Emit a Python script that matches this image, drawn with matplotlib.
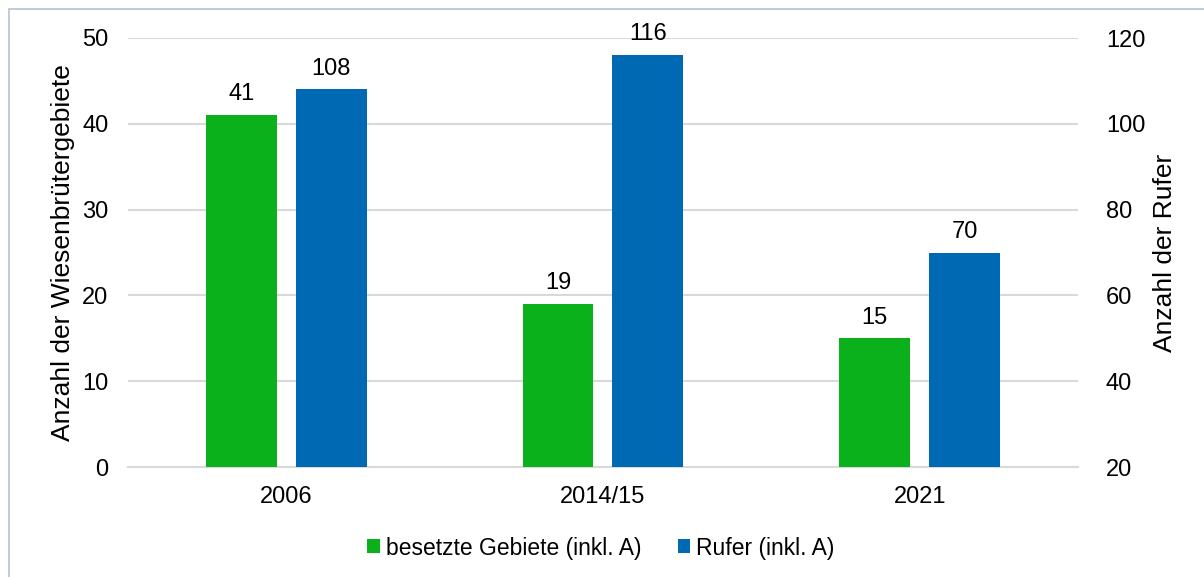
import matplotlib.pyplot as plt
import numpy as np
from matplotlib.patches import Rectangle

plt.rcParams['font.family'] = ['Liberation Sans', 'DejaVu Sans']

# data
years = ['2006', '2014/15', '2021']
gebiete = [41, 19, 15]
rufer = [108, 116, 70]
labels = ['besetzte Gebiete (inkl. A)', 'Rufer (inkl. A)']

green = '#0BB11A'
blue = '#0069B4'
W, H = 1204, 577

fig = plt.figure(figsize=(W / 100, H / 100), dpi=100)
ax = fig.add_axes([128 / W, 1 - 467 / H, (1078 - 128) / W, (467 - 38) / H])
ax2 = ax.twinx()

x = np.arange(len(years))
bw = 0.224
off = 0.142

b1 = ax.bar(x - off, gebiete, bw, color=green, label=labels[0], zorder=3)
b2 = ax2.bar(x + off, rufer, bw, color=blue, label=labels[1], zorder=3)

ax.set_xlim(-0.5, 2.5)
ax.set_ylim(0, 50)
ax2.set_ylim(20, 120)
ax.set_yticks(range(0, 51, 10))
ax2.set_yticks(range(20, 121, 20))
ax.set_xticks(x)
ax.set_xticklabels(years)

ax.yaxis.grid(True, color='#D9D9D9', linewidth=1.5, zorder=0)
ax.set_axisbelow(True)
for a in (ax, ax2):
    for s in a.spines.values():
        s.set_visible(False)
    a.tick_params(length=0, labelsize=17, colors='black')
ax.spines['bottom'].set_visible(True)
ax.spines['bottom'].set_color('#D9D9D9')
ax.spines['bottom'].set_linewidth(1.5)
ax.tick_params(axis='y', pad=14)
ax2.tick_params(axis='y', pad=20)
ax.tick_params(axis='x', pad=14)

ax.set_ylabel('Anzahl der Wiesenbrütergebiete', fontsize=19, labelpad=5)
ax2.set_ylabel('Anzahl der Rufer', fontsize=19, labelpad=6)

ax.bar_label(b1, padding=7, fontsize=17)
ax2.bar_label(b2, padding=7, fontsize=17)

fig.legend(handles=[b1, b2], loc='center', bbox_to_anchor=(601 / W, 1 - 548 / H),
           ncol=2, frameon=False, fontsize=16.5, handlelength=0.55,
           handleheight=0.55, handletextpad=0.25, columnspacing=1.6)

# outer chart border
fig.patches.append(Rectangle((9 / W, -0.1), 1.2, 1 - 9 / H + 0.1,
                             transform=fig.transFigure, fill=False,
                             edgecolor='#B4C3D2', linewidth=1.2))

fig.savefig('out.png', dpi=100)
